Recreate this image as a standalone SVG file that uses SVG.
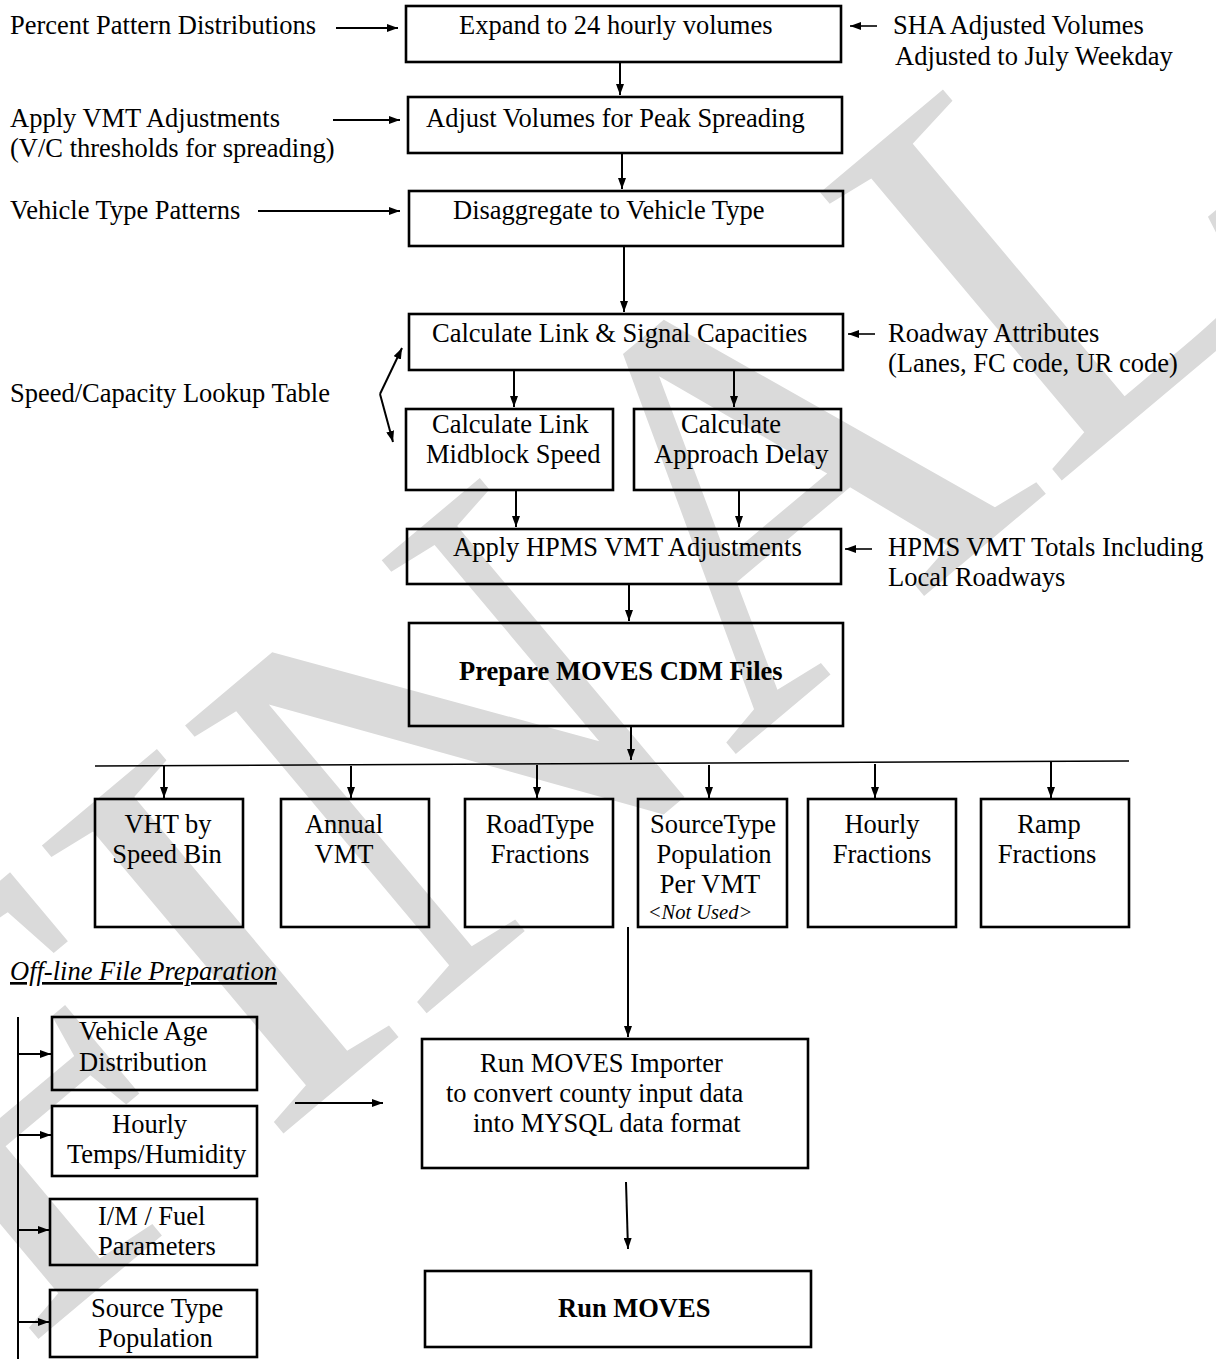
<svg xmlns="http://www.w3.org/2000/svg" width="1216" height="1359" viewBox="0 0 1216 1359">
<defs>
<marker id="ah" markerUnits="userSpaceOnUse" markerWidth="11" markerHeight="8" refX="11" refY="4" orient="auto">
<path d="M0,0 L11,4 L0,8 z" fill="#000"/>
</marker>
<style>
text{font-family:"Liberation Serif","Times New Roman",serif;font-size:26.5px;fill:#000}
.b{font-weight:bold}
.m{text-anchor:middle}
.nu{font-style:italic;font-size:20.5px}
.ul{font-style:italic;text-decoration:underline}
.box{fill:none;stroke:#000;stroke-width:2.6}
.c line,.c path{stroke:#000;stroke-width:2;fill:none}
.c .a{marker-end:url(#ah)}
.c .t{stroke-width:1.6}
.wm{font-family:"Liberation Serif","Times New Roman",serif;font-size:574px;fill:#dadada}
</style>
</defs>
<rect width="1216" height="1359" fill="#fff"/>
<g id="watermark">
<text class="wm" transform="translate(23,1352) rotate(-40)">FINAL</text>
</g>

<g id="inputs">
<text x="10" y="34">Percent Pattern Distributions</text>
<text x="10" y="127">Apply VMT Adjustments</text>
<text x="10" y="157">(V/C thresholds for spreading)</text>
<text x="10" y="219">Vehicle Type Patterns</text>
<text x="10" y="402">Speed/Capacity Lookup Table</text>
<text x="893" y="34">SHA Adjusted Volumes</text>
<text x="895" y="65">Adjusted to July Weekday</text>
<text x="888" y="342">Roadway Attributes</text>
<text x="888" y="372">(Lanes, FC code, UR code)</text>
<text x="888" y="556">HPMS VMT Totals Including</text>
<text x="888" y="586">Local Roadways</text>
<text class="ul" x="10" y="980">Off-line File Preparation</text>
</g>

<g id="n1"><rect class="box" x="406" y="6" width="435" height="56"/><text x="459" y="34">Expand to 24 hourly volumes</text></g>
<g id="n2"><rect class="box" x="408" y="97" width="434" height="56"/><text x="426" y="127">Adjust Volumes for Peak Spreading</text></g>
<g id="n3"><rect class="box" x="409" y="191" width="434" height="55"/><text x="453" y="219">Disaggregate to Vehicle Type</text></g>
<g id="n4"><rect class="box" x="409" y="314" width="434" height="56"/><text x="432" y="342">Calculate Link &amp; Signal Capacities</text></g>
<g id="n5"><rect class="box" x="406" y="409" width="207" height="81"/><text x="432" y="433">Calculate Link</text><text x="426" y="463">Midblock Speed</text></g>
<g id="n6"><rect class="box" x="634" y="409" width="207" height="81"/><text x="681" y="433">Calculate</text><text x="654" y="463">Approach Delay</text></g>
<g id="n7"><rect class="box" x="407" y="529" width="434" height="55"/><text x="453" y="556">Apply HPMS VMT Adjustments</text></g>
<g id="n8"><rect class="box" x="409" y="623" width="434" height="103"/><text class="b" x="459" y="680">Prepare MOVES CDM Files</text></g>

<g id="o1"><rect class="box" x="95" y="799" width="148" height="128"/><text class="m" x="168" y="833">VHT by</text><text class="m" x="167" y="863">Speed Bin</text></g>
<g id="o2"><rect class="box" x="281" y="799" width="148" height="128"/><text class="m" x="344" y="833">Annual</text><text class="m" x="344" y="863">VMT</text></g>
<g id="o3"><rect class="box" x="465" y="799" width="148" height="128"/><text class="m" x="540" y="833">RoadType</text><text class="m" x="540" y="863">Fractions</text></g>
<g id="o4"><rect class="box" x="638" y="799" width="149" height="128"/><text class="m" x="713" y="833">SourceType</text><text class="m" x="714" y="863">Population</text><text class="m" x="710" y="893">Per VMT</text><text class="m nu" x="700" y="919">&lt;Not Used&gt;</text></g>
<g id="o5"><rect class="box" x="808" y="799" width="148" height="128"/><text class="m" x="882" y="833">Hourly</text><text class="m" x="882" y="863">Fractions</text></g>
<g id="o6"><rect class="box" x="981" y="799" width="148" height="128"/><text class="m" x="1049" y="833">Ramp</text><text class="m" x="1047" y="863">Fractions</text></g>

<g id="f1"><rect class="box" x="52" y="1017" width="205" height="73"/><text x="79" y="1040">Vehicle Age</text><text x="79" y="1071">Distribution</text></g>
<g id="f2"><rect class="box" x="52" y="1106" width="205" height="70"/><text x="112" y="1133">Hourly</text><text x="67" y="1163">Temps/Humidity</text></g>
<g id="f3"><rect class="box" x="50" y="1199" width="207" height="66"/><text x="98" y="1225">I/M / Fuel</text><text x="98" y="1255">Parameters</text></g>
<g id="f4"><rect class="box" x="50" y="1290" width="207" height="67"/><text x="91" y="1317">Source Type</text><text x="98" y="1347">Population</text></g>

<g id="n9"><rect class="box" x="422" y="1039" width="386" height="129"/><text x="480" y="1072">Run MOVES Importer</text><text x="446" y="1102">to convert county input data</text><text x="473" y="1132">into MYSQL data format</text></g>
<g id="n10"><rect class="box" x="425" y="1271" width="386" height="76"/><text class="b" x="558" y="1317">Run MOVES</text></g>

<g id="connectors" class="c">
<line class="a" x1="336" y1="28" x2="398" y2="28"/>
<line class="a" x1="333" y1="120" x2="400" y2="120"/>
<line class="a" x1="258" y1="211" x2="400" y2="211"/>
<line class="a t" x1="877" y1="26" x2="850" y2="26"/>
<line class="a t" x1="875" y1="334" x2="848" y2="334"/>
<line class="a t" x1="872" y1="549" x2="845" y2="549"/>
<line class="a" x1="620" y1="62" x2="620" y2="95"/>
<line class="a" x1="622" y1="153" x2="622" y2="189"/>
<line class="a" x1="624" y1="246" x2="624" y2="312"/>
<line class="a" x1="514" y1="370" x2="514" y2="407"/>
<line class="a" x1="734" y1="370" x2="734" y2="407"/>
<line class="a" x1="516" y1="490" x2="516" y2="527"/>
<line class="a" x1="739" y1="490" x2="739" y2="527"/>
<line class="a" x1="629" y1="584" x2="629" y2="621"/>
<line class="a" x1="631" y1="726" x2="631" y2="760"/>
<path class="a" d="M380,394 L402,348"/>
<path class="a" d="M380,394 L393,442"/>
<line class="t" x1="95" y1="766" x2="1129" y2="761"/>
<line class="a" x1="164" y1="766" x2="164" y2="798"/>
<line class="a" x1="351" y1="766" x2="351" y2="798"/>
<line class="a" x1="537" y1="765" x2="537" y2="798"/>
<line class="a" x1="709" y1="765" x2="709" y2="798"/>
<line class="a" x1="875" y1="764" x2="875" y2="798"/>
<line class="a" x1="1051" y1="762" x2="1051" y2="798"/>
<line class="a" x1="628" y1="927" x2="628" y2="1037"/>
<line x1="18" y1="1017" x2="18" y2="1359"/>
<line class="a" x1="18" y1="1054" x2="51" y2="1054"/>
<line class="a" x1="19" y1="1135" x2="51" y2="1135"/>
<line class="a" x1="18" y1="1230" x2="49" y2="1230"/>
<line class="a" x1="18" y1="1322" x2="49" y2="1322"/>
<line class="a" x1="295" y1="1103" x2="383" y2="1103"/>
<line class="a" x1="626" y1="1182" x2="628" y2="1249"/>
</g>
</svg>
